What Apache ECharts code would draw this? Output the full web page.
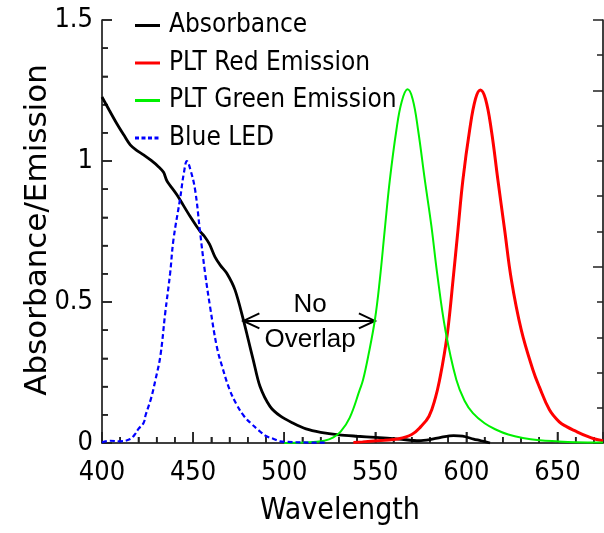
<!DOCTYPE html>
<html>
<head>
<meta charset="utf-8">
<script src="https://cdn.jsdelivr.net/npm/echarts@6/dist/echarts.min.js"></script>
<style>
  html, body { margin: 0; padding: 0; background: #fff; }
  #chart { width: 604px; height: 533px; }
</style>
</head>
<body>
<div id="chart"></div>
<script>
// wavelength (nm) / value pairs
const absX = [400, 404, 408, 412, 415.5, 419, 422.8, 427, 431, 433.8, 435.6, 441.1, 448.4, 453.9, 456, 459, 462, 465, 468.5, 473, 477.6, 480.3, 483, 486.7, 492.2, 498, 505, 512, 520, 530, 540, 550, 563, 574, 580, 586, 593, 598, 604, 608, 613]
const absY = [1.227, 1.180, 1.134, 1.092, 1.057, 1.038, 1.022, 1.002, 0.980, 0.960, 0.930, 0.880, 0.803, 0.750, 0.735, 0.705, 0.660, 0.630, 0.602, 0.543, 0.437, 0.366, 0.295, 0.201, 0.130, 0.095, 0.070, 0.050, 0.038, 0.029, 0.024, 0.020, 0.014, 0.008, 0.012, 0.020, 0.026, 0.024, 0.014, 0.008, 0.0]

const redX = [538, 543, 555, 562, 570, 575, 579.5, 583, 585.5, 588, 590, 592.7, 595.4, 598.1, 601.8, 605, 607.7, 610.5, 613.7, 617.3, 621, 624.7, 630.1, 636.5, 640, 645.6, 651, 655, 660, 665.8, 670, 675]
const redY = [0.002, 0.004, 0.010, 0.014, 0.030, 0.058, 0.095, 0.160, 0.230, 0.320, 0.410, 0.579, 0.756, 0.933, 1.110, 1.220, 1.252, 1.220, 1.110, 0.933, 0.756, 0.579, 0.402, 0.260, 0.200, 0.118, 0.075, 0.058, 0.042, 0.025, 0.015, 0.008]

const greenX = [500, 510, 516, 522, 527, 531, 536, 541.5, 543.3, 546.1, 549.8, 552.5, 555.2, 558, 561.6, 564.5, 567.7, 570.5, 573.5, 577.2, 580.8, 584, 588.5, 594.5, 599, 603.6, 610, 616.4, 623, 631, 640, 649.3, 660, 675]
const greenY = [0.0, 0.002, 0.004, 0.008, 0.020, 0.040, 0.090, 0.189, 0.224, 0.307, 0.437, 0.579, 0.756, 0.933, 1.110, 1.210, 1.254, 1.220, 1.110, 0.933, 0.770, 0.600, 0.400, 0.224, 0.150, 0.106, 0.070, 0.047, 0.030, 0.018, 0.010, 0.006, 0.003, 0.002]

const blueX = [400, 404.5, 410, 415.5, 418, 420, 422.8, 424, 427, 429.2, 432, 434.7, 437.4, 439.2, 442.9, 445, 446.6, 448.5, 451.1, 453.9, 456.6, 459.3, 463, 466, 470, 474, 478, 482, 486, 490, 494, 497.7, 501.4, 510, 523]
const blueY = [0.002, 0.008, 0.006, 0.014, 0.030, 0.050, 0.071, 0.100, 0.160, 0.220, 0.307, 0.461, 0.602, 0.720, 0.868, 0.960, 1.000, 0.970, 0.898, 0.744, 0.602, 0.484, 0.342, 0.270, 0.190, 0.135, 0.095, 0.068, 0.045, 0.025, 0.015, 0.006, 0.004, 0.002, 0.001]

const seriesNames = ['Absorbance', 'PLT Red Emission', 'PLT Green Emission', 'Blue LED']
const xTicks = { min: 400, max: 675, step: 50 }
const yTicks = { min: 0, max: 1.5, step: 0.5 }
// tick positions on the bottom and left axes
const xMajorTicks = [400, 450, 500, 550, 600, 650]
const xMinorTicks = [410, 420, 430, 440, 460, 470, 480, 490, 510, 520, 530, 540, 560, 570, 580, 590, 610, 620, 630, 640, 660, 670]
const yMajorTicks = [0, 0.5, 1, 1.5]
const yMinorTicks = [0.1, 0.2, 0.3, 0.4, 0.6, 0.7, 0.8, 0.9, 1.1, 1.2, 1.3, 1.4]
// double arrow "No Overlap" between absorbance edge and green emission
const gapArrow = [477.6, 0.433, 549.8, 0.433]

const narrow = "'Liberation Sans Narrow', 'DejaVu Sans Condensed', sans-serif"
const solidIcon = 'path://M0,0H25V3H0Z'
const dashIcon = 'path://M0,0H4V3H0Z M6.5,0H10.5V3H6.5Z M13,0H17V3H13Z M19.5,0H23.5V3H19.5Z M25,0H25.01V3H25Z'

function pairs(xs, ys) {
  return xs.map((x, i) => [x, ys[i]])
}

function ticks() {
  return { show: true, inside: true, length: 10, lineStyle: { color: '#222', width: 1.5 } }
}
function minor() {
  return { show: true, splitNumber: 5, length: 6, lineStyle: { color: '#222', width: 1.5 } }
}

// [x, y, length, direction] : direction 0 = tick on bottom axis, 1 = on left axis
const tickData = []
  .concat(xMajorTicks.map(v => [v, yTicks.min, 11, 0]))
  .concat(xMinorTicks.map(v => [v, yTicks.min, 6, 0]))
  .concat(yMajorTicks.map(v => [xTicks.min, v, 10, 1]))
  .concat(yMinorTicks.map(v => [xTicks.min, v, 6, 1]))

const chart = echarts.init(document.getElementById('chart'))

chart.setOption({
  animation: false,
  grid: { left: 102, right: 1, top: 20, bottom: 90 },
  legend: {
    data: seriesNames.map((n, i) => ({ name: n, icon: i === 3 ? dashIcon : solidIcon })),
    orient: 'vertical',
    left: 130,
    top: 5.5,
    itemWidth: 25,
    itemHeight: 3,
    itemGap: 7.5,
    textStyle: { fontSize: 26, lineHeight: 30, color: '#000', fontFamily: narrow, padding: [0, 0, 0, 4] }
  },
  graphic: [
    {
      type: 'text', x: 340, y: 511,
      style: { text: 'Wavelength', fontSize: 30, fontFamily: narrow, fill: '#000', align: 'center', verticalAlign: 'middle' }
    },
    {
      type: 'text', x: 38, y: 230, rotation: Math.PI / 2,
      style: { text: 'Absorbance/Emission', fontSize: 31, fontFamily: "'DejaVu Sans', sans-serif", fill: '#000', align: 'center', verticalAlign: 'middle' }
    }
  ],
  xAxis: {
    type: 'value',
    min: xTicks.min,
    max: xTicks.max,
    interval: xTicks.step,
    axisLine: { lineStyle: { color: '#000', width: 1.5 } },
    axisTick: Object.assign(ticks(), { length: 11 }),
    minorTick: minor(),
    axisLabel: { fontSize: 27, margin: 16, color: '#000', fontFamily: narrow, showMaxLabel: false },
    splitLine: { show: false }
  },
  yAxis: [
    {
      type: 'value',
      min: yTicks.min,
      max: yTicks.max,
      interval: yTicks.step,
      axisLine: { show: true, lineStyle: { color: '#000', width: 1.5 } },
      axisTick: ticks(),
      minorTick: minor(),
      axisLabel: { fontSize: 27, margin: 9, color: '#000', fontFamily: narrow },
      splitLine: { show: false }
    },
    {
      // unlabelled right-hand scale
      type: 'value',
      position: 'right',
      min: 0,
      max: 1.2,
      interval: 0.5,
      axisLine: { show: true, lineStyle: { color: '#000', width: 1.5 } },
      axisTick: ticks(),
      minorTick: minor(),
      axisLabel: { show: false },
      splitLine: { show: false }
    }
  ],
  series: [
    {
      // tick marks for the bottom and left axes
      type: 'custom',
      silent: true,
      z: 1,
      data: tickData,
      encode: { x: 0, y: 1 },
      renderItem: function (params, api) {
        const p = api.coord([api.value(0), api.value(1)])
        const len = api.value(2)
        const up = api.value(3) === 0
        return {
          type: 'line',
          shape: up
            ? { x1: p[0], y1: p[1], x2: p[0], y2: p[1] - len }
            : { x1: p[0], y1: p[1], x2: p[0] + len, y2: p[1] },
          style: { stroke: '#222', lineWidth: 1.5 }
        }
      }
    },
    {
      name: 'Absorbance',
      type: 'line',
      data: pairs(absX, absY),
      symbol: 'none',
      smooth: 0.3,
      color: '#000',
      lineStyle: { color: '#000', width: 2.8 }
    },
    {
      name: 'PLT Red Emission',
      type: 'line',
      data: pairs(redX, redY),
      symbol: 'none',
      smooth: 0.4,
      color: '#ff0000',
      lineStyle: { color: '#ff0000', width: 3 }
    },
    {
      name: 'PLT Green Emission',
      type: 'line',
      data: pairs(greenX, greenY),
      symbol: 'none',
      smooth: 0.4,
      color: '#00f000',
      lineStyle: { color: '#00f000', width: 2 }
    },
    {
      name: 'Blue LED',
      type: 'line',
      data: pairs(blueX, blueY),
      symbol: 'none',
      smooth: 0.4,
      color: '#0000ff',
      lineStyle: { color: '#0000ff', width: 2.2, type: [5, 3] }
    },
    {
      type: 'custom',
      silent: true,
      data: [gapArrow],
      encode: { x: [0, 2], y: [1, 3] },
      renderItem: function (params, api) {
        const a = api.coord([api.value(0), api.value(1)])
        const b = api.coord([api.value(2), api.value(3)])
        const h = 16, w = 7.5
        const stroke = { stroke: '#000', lineWidth: 2, fill: null }
        const mid = (a[0] + b[0]) / 2 + 1
        const txt = { fontSize: 26, fontFamily: "'Liberation Sans', Arial, sans-serif", fill: '#000', align: 'center', verticalAlign: 'middle' }
        return {
          type: 'group',
          children: [
            { type: 'line', shape: { x1: a[0], y1: a[1], x2: b[0], y2: b[1] }, style: stroke },
            { type: 'polyline', shape: { points: [[a[0] + h, a[1] - w], a, [a[0] + h, a[1] + w]] }, style: stroke },
            { type: 'polyline', shape: { points: [[b[0] - h, b[1] - w], b, [b[0] - h, b[1] + w]] }, style: stroke },
            { type: 'text', x: mid, y: a[1] - 16, style: Object.assign({ text: 'No' }, txt) },
            { type: 'text', x: mid, y: a[1] + 19, style: Object.assign({ text: 'Overlap' }, txt) }
          ]
        }
      }
    }
  ]
})
</script>
</body>
</html>
